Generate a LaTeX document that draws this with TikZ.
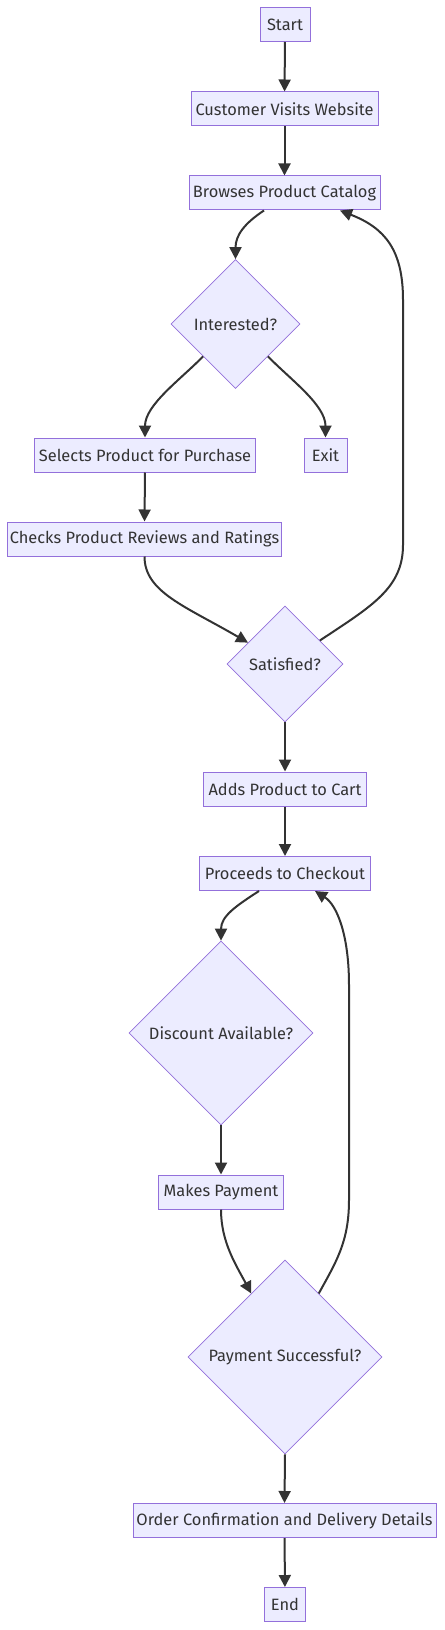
\documentclass[tikz,border=0pt]{standalone}
\usepackage{fontspec}
\setmainfont{Fira Sans}
\usetikzlibrary{shapes.geometric,arrows.meta,calc}
\definecolor{nodefill}{HTML}{ECECFF}
\definecolor{nodeline}{HTML}{9370DB}
\definecolor{edgeline}{HTML}{333333}
\tikzset{every picture/.style={line width=0.75pt}}
\tikzset{
  procbox/.style={draw=nodeline,fill=nodefill,text=edgeline,line width=0.75pt,inner xsep=2pt,inner ysep=0pt,minimum height=25.5pt,font=\fontsize{12.3}{14}\selectfont},
  decision/.style={diamond,aspect=1,draw=nodeline,fill=nodefill,text=edgeline,line width=0.5pt,inner sep=0pt,font=\fontsize{12.3}{14}\selectfont},
  flow/.style={draw=edgeline,line width=1.5pt,-{Triangle[length=9pt,width=9pt]}}
}
\begin{document}
\begin{tikzpicture}[x=0.75pt,y=0.75pt,yscale=-1,xscale=1]
\path[use as bounding box] (0,0) rectangle (444,1630); %set diagram size to 444 x 1630

%Process Nodes
\node[procbox,minimum width=37.5pt] (start) at (285,24.5) {Start};
\node[procbox,minimum width=140.25pt] (visit) at (284.5,109) {Customer Visits Website};
\node[procbox,minimum width=143.25pt] (browse) at (284.5,193) {Browses Product Catalog};
\node[procbox,minimum width=165.4pt] (select) at (145,455) {Selects Product for Purchase};
\node[procbox,minimum width=32.25pt] (exit) at (325.5,455) {Exit};
\node[procbox,minimum width=205.5pt] (checks) at (144.5,539) {Checks Product Reviews and Ratings};
\node[procbox,minimum width=122.6pt] (addcart) at (285,789) {Adds Product to Cart};
\node[procbox,minimum width=127.9pt] (proceed) at (285,873.5) {Proceeds to Checkout};
\node[procbox,minimum width=93.75pt] (pay) at (221,1192) {Makes Payment};
\node[procbox,minimum width=227.25pt] (order) at (284.5,1520.5) {Order Confirmation and Delivery Details};
\node[procbox,minimum width=31.1pt] (done) at (285,1604.5) {End};

%Decision Nodes
\node[decision,minimum width=96.75pt,minimum height=96.75pt] (interest) at (235.5,324) {Interested?};
\node[decision,minimum width=87pt,minimum height=87pt] (satisfied) at (285,664) {Satisfied?};
\node[decision,minimum width=138pt,minimum height=138pt] (discount) at (221,1033) {Discount Available?};
\node[decision,minimum width=145.5pt,minimum height=145.5pt] (success) at (285,1357) {Payment Successful?};

%Straight Lines
\draw[flow] (start) -- (visit);
\draw[flow] (visit) -- (browse);
\draw[flow] (select.south) -- (checks.north);
\draw[flow] (satisfied.south) -- (addcart.north);
\draw[flow] (addcart) -- (proceed);
\draw[flow] (discount.south) -- (pay.north);
\draw[flow] (success.south) -- (order.north);
\draw[flow] (order) -- (done);

%Curve Lines
\draw[flow] ($(browse.south)+(-20.5,0)$) .. controls (245,223) and (235.5,235) .. (interest.north);
\draw[flow] (interest.south west) .. controls (180,380) and (145,405) .. (select.north);
\draw[flow] (interest.south east) .. controls (291,380) and (325.5,405) .. (exit.north);
\draw[flow] (checks.south) .. controls (144.5,592) and (185,606) .. (satisfied.150);
\draw[flow] (satisfied.34) .. controls (372,606) and (403,588) .. (403,545) -- (403,300) .. controls (403,250) and (385,228) .. ($(browse.south)+(55.5,0)$);
\draw[flow] ($(proceed.south)+(-26,0)$) .. controls (236,906) and (221,916) .. (discount.north);
\draw[flow] (pay.south) .. controls (221,1242) and (236,1265) .. (success.118);
\draw[flow] (success.62) .. controls (336,1262) and (349,1242) .. (349,1200) -- (349,985) .. controls (349,935) and (337,905) .. ($(proceed.south)+(30,0)$);

\end{tikzpicture}
\end{document}
